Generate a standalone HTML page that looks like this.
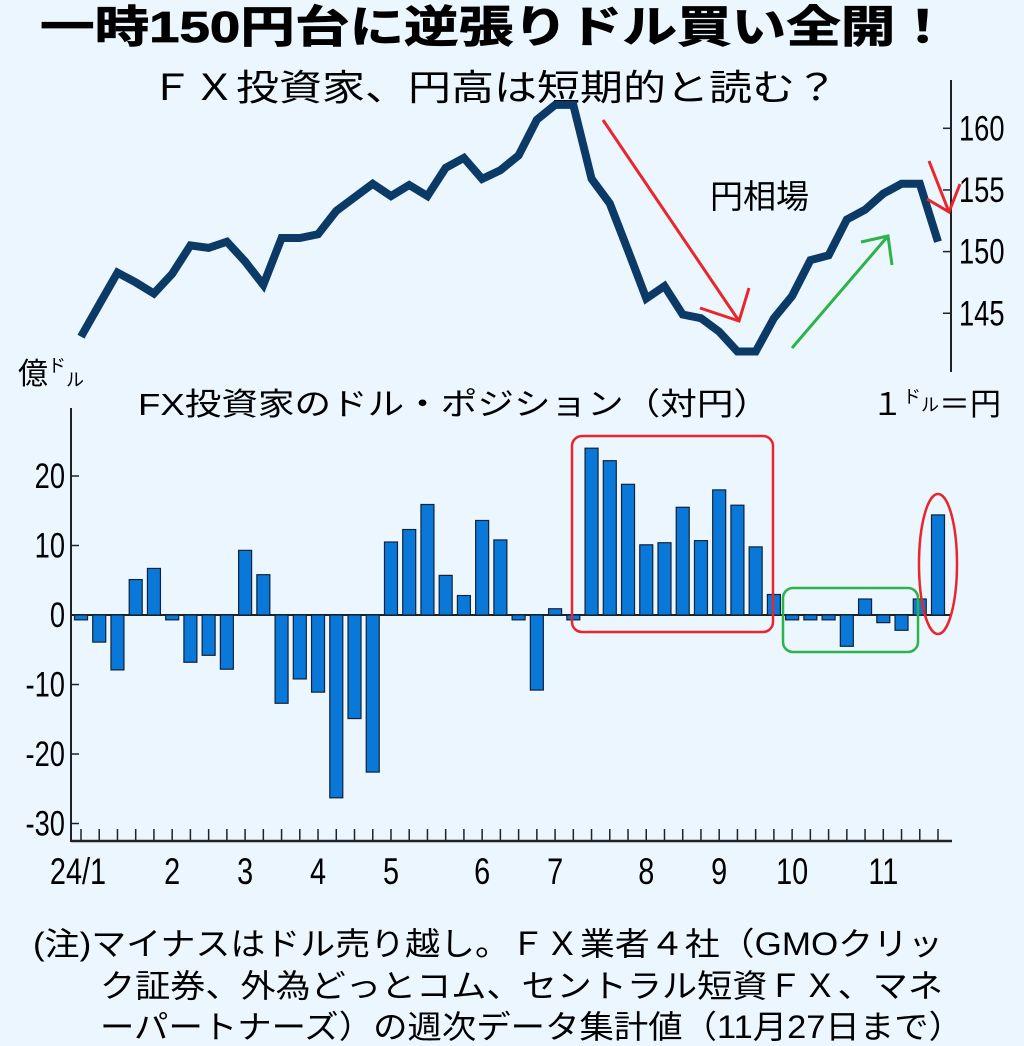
<!DOCTYPE html>
<html><head><meta charset="utf-8"><style>
html,body{margin:0;padding:0;background:#ecf6fe;}
svg{display:block;font-family:"Liberation Sans","Noto Sans CJK JP",sans-serif;}
</style></head><body>
<svg id="chart" width="1024" height="1046" viewBox="0 0 1024 1046" xmlns="http://www.w3.org/2000/svg">
<rect x="0" y="0" width="1024" height="1046" fill="#ecf6fe"/>
<text x="40" y="42" font-size="44" font-weight="bold" textLength="910" lengthAdjust="spacingAndGlyphs" fill="#000" stroke="#000" stroke-width="0.8">一時150円台に逆張りドル買い全開！</text>
<text x="150" y="100" font-size="36" textLength="688" lengthAdjust="spacingAndGlyphs" fill="#000">ＦＸ投資家、円高は短期的と読む？</text>
<text x="18" y="384" font-size="30" fill="#000">億<tspan font-size="18" dy="-12">ド</tspan><tspan font-size="18" dy="14">ル</tspan></text>
<text x="138" y="415" font-size="31" textLength="632" lengthAdjust="spacingAndGlyphs" fill="#000">FX投資家のドル・ポジション（対円）</text>
<text x="872" y="415" font-size="31" fill="#000">１<tspan font-size="18" dy="-12">ド</tspan><tspan font-size="18" dy="8">ル</tspan><tspan font-size="31" dy="4">＝円</tspan></text>
<text x="710" y="208" font-size="33" fill="#000">円相場</text>
<g id="axes"></g>
<g id="bars"></g>
<g id="line"></g>
<g>
<rect x="572" y="436" width="201" height="196" rx="10" fill="none" stroke="#e8262b" stroke-width="2.5"/>
<rect x="783" y="588" width="135" height="64" rx="10" fill="none" stroke="#2db34a" stroke-width="2.5"/>
<ellipse cx="938" cy="564" rx="19" ry="70" fill="none" stroke="#e8262b" stroke-width="2.5"/>
<g stroke="#e8262b" stroke-width="3" fill="none">
<line x1="603" y1="120" x2="739" y2="321"/><polyline points="700,308 739,321 749,288"/></g>
<g stroke="#2db34a" stroke-width="3" fill="none">
<line x1="792" y1="348" x2="888" y2="236"/><polyline points="861,242 888,236 892,265"/></g>
<g stroke="#e8262b" stroke-width="3" fill="none">
<line x1="929" y1="161" x2="949" y2="212"/><polyline points="927,199 949,212 960,184"/></g>
</g>
<text x="33" y="955" font-size="32" textLength="910" lengthAdjust="spacingAndGlyphs" fill="#000">(注)マイナスはドル売り越し。ＦＸ業者４社（GMOクリッ</text>
<text x="100" y="997" font-size="32" textLength="843" lengthAdjust="spacingAndGlyphs" fill="#000">ク証券、外為どっとコム、セントラル短資ＦＸ、マネ</text>
<text x="100" y="1038" font-size="32" textLength="863" lengthAdjust="spacingAndGlyphs" fill="#000">ーパートナーズ）の週次データ集計値（11月27日まで）</text>
</svg>
<script>
const positions = [-0.7,-3.9,-7.9,5.1,6.7,-0.7,-6.8,-5.8,-7.8,9.3,5.8,-12.7,-9.2,-11.1,-26.3,-14.9,-22.6,10.5,12.3,15.9,5.7,2.8,13.6,10.8,-0.7,-10.8,0.9,-0.7,24.0,22.2,18.8,10.1,10.4,15.5,10.7,18.0,15.8,9.8,2.95,-0.7,-0.7,-0.7,-4.5,2.3,-1.1,-2.2,2.3,14.4];
const yenRate = [143.1,145.7,148.3,147.5,146.6,148.2,150.5,150.3,150.8,149.2,147.3,151.1,151.1,151.4,153.3,154.4,155.5,154.5,155.4,154.5,156.8,157.6,155.9,156.6,157.8,160.7,161.9,161.9,155.9,153.9,150.1,146.2,147.2,144.9,144.6,143.5,141.9,141.9,144.6,146.4,149.3,149.7,152.6,153.4,154.7,155.5,155.5,150.8];
const leftTicks = [20,10,0,-10,-20,-30];
const leftTickLabels = ["20","10","0","-10","-20","-30"];
const rightTicks = [160,155,150,145];
const monthLabels = ["24/1","2","3","4","5","6","7","8","9","10","11"];
const monthStartIndex = [0,5,9,13,17,22,26,31,35,39,44];

const NS="http://www.w3.org/2000/svg";
const x0=81, dx=(938-81)/47;
const xAt=i=>x0+i*dx;
const yBar=v=>615 - v*6.95;
const yLine=v=>128.3 - (v-160)*12.33;
function mk(tag,attrs,parent){const e=document.createElementNS(NS,tag);for(const k in attrs)e.setAttribute(k,attrs[k]);parent.appendChild(e);return e;}
const axes=document.getElementById('axes'), bars=document.getElementById('bars'), line=document.getElementById('line');
const SX=0.78;

let e;
e=mk('line',{x1:71,y1:408,x2:71,y2:842,stroke:'#222','stroke-width':2},axes);


e=mk('line',{x1:71,y1:841,x2:952,y2:841,stroke:'#222','stroke-width':2.5},axes);


e=mk('line',{x1:951,y1:80,x2:951,y2:372,stroke:'#222','stroke-width':2},axes);


e=mk('line',{x1:71,y1:yBar(0),x2:951,y2:yBar(0),stroke:'#222','stroke-width':2},axes);



leftTicks.forEach((v,i)=>{
  const y=yBar(v);
  const t=mk('line',{x1:71,y1:y,x2:79,y2:y,stroke:'#222','stroke-width':1.5},axes);
  
  
  const l=mk('text',{x:0,y:0,'font-size':35,'text-anchor':'end',fill:'#000',transform:`translate(65,${y+12}) scale(${SX},1)`},axes);
  
  
  l.textContent=leftTickLabels[i];
});
rightTicks.forEach(v=>{
  const y=yLine(v);
  const t=mk('line',{x1:943,y1:y,x2:951,y2:y,stroke:'#222','stroke-width':1.5},axes);
  
  
  const l=mk('text',{x:0,y:0,'font-size':35,fill:'#000',transform:`translate(959,${y+12}) scale(${SX},1)`},axes);
  
  
  l.textContent=String(v);
});
positions.forEach((v,i)=>{
  const x=xAt(i);
  const t=mk('line',{x1:x,y1:829,x2:x,y2:841,stroke:'#222','stroke-width':1.5},axes);
  
  
  const y1=yBar(Math.max(v,0)), y2=yBar(Math.min(v,0));
  const b=mk('rect',{x:x-6.5,y:y1,width:13,height:Math.max(y2-y1,1),fill:'#0a78d8',stroke:'#10233a','stroke-width':1.2},bars);
  
  
});
monthLabels.forEach((m,i)=>{
  const x=xAt(monthStartIndex[i])+(i===0?-3:0);
  const l=mk('text',{x:0,y:0,'font-size':37,'text-anchor':'middle',fill:'#000',transform:`translate(${x},884) scale(${SX},1)`},axes);
  
  
  l.textContent=m;
});
const pts=yenRate.map((v,i)=>xAt(i).toFixed(1)+','+yLine(v).toFixed(1)).join(' ');
const pl=mk('polyline',{points:pts,fill:'none',stroke:'#0b3a66','stroke-width':8,'stroke-linejoin':'miter','stroke-miterlimit':3},line);


</script>
</body></html>
